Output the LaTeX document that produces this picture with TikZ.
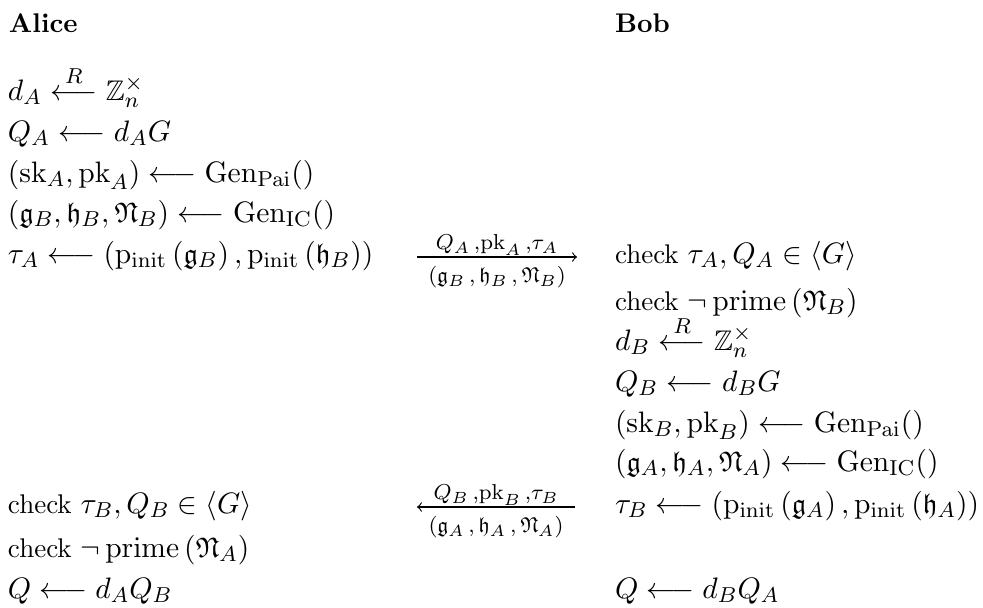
\documentclass[tikz,border=0pt]{standalone}
\usepackage{amsmath,amssymb}
\DeclareMathSizes{10}{10}{8}{6}
\DeclareMathSizes{10.5}{10.5}{8.4}{6.3}
\newcommand{\mth}[1]{{\fontsize{10.5}{12.6}\selectfont$#1$}}
\begin{document}
\begin{tikzpicture}[x=0.3704pt,y=-0.3704pt,
  txt/.style={anchor=base west,inner sep=0pt,outer sep=0pt},
  lblup/.style={font=\footnotesize,anchor=base,inner sep=0pt,yshift=2.6pt},
  lbldn/.style={font=\footnotesize,anchor=base,inner sep=0pt,yshift=-9.6pt},
  msg/.style={line width=0.4pt}]
\useasboundingbox (0,0) rectangle (983,607);
% titles
\node[txt] (alice) at (9,32) {\textbf{Alice}};
\node[txt] (bob) at (615,32) {\textbf{Bob}};
% Alice column
\node[txt] (a1) at (8,100) {\mth{d_A \stackrel{R}{\longleftarrow} \mathbb{Z}_n^\times}};
\node[txt] (a2) at (8,141) {\mth{Q_A \longleftarrow d_A G}};
\node[txt] (a3) at (8,182) {\mth{({\mathrm{sk}}_A, {\mathrm{pk}}_A) \longleftarrow \mathrm{Gen}_{\mathrm{Pai}}()}};
\node[txt] (a4) at (8,222) {\mth{(\mathfrak{g}_B, \mathfrak{h}_B, \mathfrak{N}_B) \longleftarrow \mathrm{Gen}_{\mathrm{IC}}()}};
\node[txt] (a5) at (8,263) {\mth{\tau_A \longleftarrow \left(\mathrm{p}_{\mathrm{init}}\left(\mathfrak{g}_B\right), \mathrm{p}_{\mathrm{init}}\left(\mathfrak{h}_B\right)\right)}};
\node[txt] (a6) at (8,513) {check \mth{\tau_B, Q_B \in \langle G\rangle}};
\node[txt] (a7) at (8,557) {check \mth{\neg\,\mathrm{prime}\left(\mathfrak{N}_A\right)}};
\node[txt] (a8) at (8,598) {\mth{Q \longleftarrow d_A Q_B}};
% Bob column
\node[txt] (b1) at (615,263) {check \mth{\tau_A, Q_A \in \langle G\rangle}};
\node[txt] (b2) at (615,310) {check \mth{\neg\,\mathrm{prime}\left(\mathfrak{N}_B\right)}};
\node[txt] (b3) at (615,350) {\mth{d_B \stackrel{R}{\longleftarrow} \mathbb{Z}_n^\times}};
\node[txt] (b4) at (615,391) {\mth{Q_B \longleftarrow d_B G}};
\node[txt] (b5) at (615,432) {\mth{({\mathrm{sk}}_B, {\mathrm{pk}}_B) \longleftarrow \mathrm{Gen}_{\mathrm{Pai}}()}};
\node[txt] (b6) at (615,471) {\mth{(\mathfrak{g}_A, \mathfrak{h}_A, \mathfrak{N}_A) \longleftarrow \mathrm{Gen}_{\mathrm{IC}}()}};
\node[txt] (b7) at (615,513) {\mth{\tau_B \longleftarrow \left(\mathrm{p}_{\mathrm{init}}\left(\mathfrak{g}_A\right), \mathrm{p}_{\mathrm{init}}\left(\mathfrak{h}_A\right)\right)}};
\node[txt] (b8) at (615,598) {\mth{Q \longleftarrow d_B Q_A}};
% messages
\coordinate (m1s) at (417,257);
\coordinate (m1e) at (577,257);
\coordinate (m2s) at (575,507);
\coordinate (m2e) at (417,507);
\draw[msg,->] (m1s) -- node[lblup] (m1u) {$Q_A\,{,}\mathrm{pk}_A\,{,}\tau_A$} node[lbldn] (m1d) {$\left(\mathfrak{g}_B\,, \mathfrak{h}_B\,, \mathfrak{N}_B\right)$} (m1e);
\draw[msg,->] (m2s) -- node[lblup] (m2u) {$Q_B\,{,}\mathrm{pk}_B\,{,}\tau_B$} node[lbldn] (m2d) {$\left(\mathfrak{g}_A\,, \mathfrak{h}_A\,, \mathfrak{N}_A\right)$} (m2e);
\end{tikzpicture}
\end{document}
